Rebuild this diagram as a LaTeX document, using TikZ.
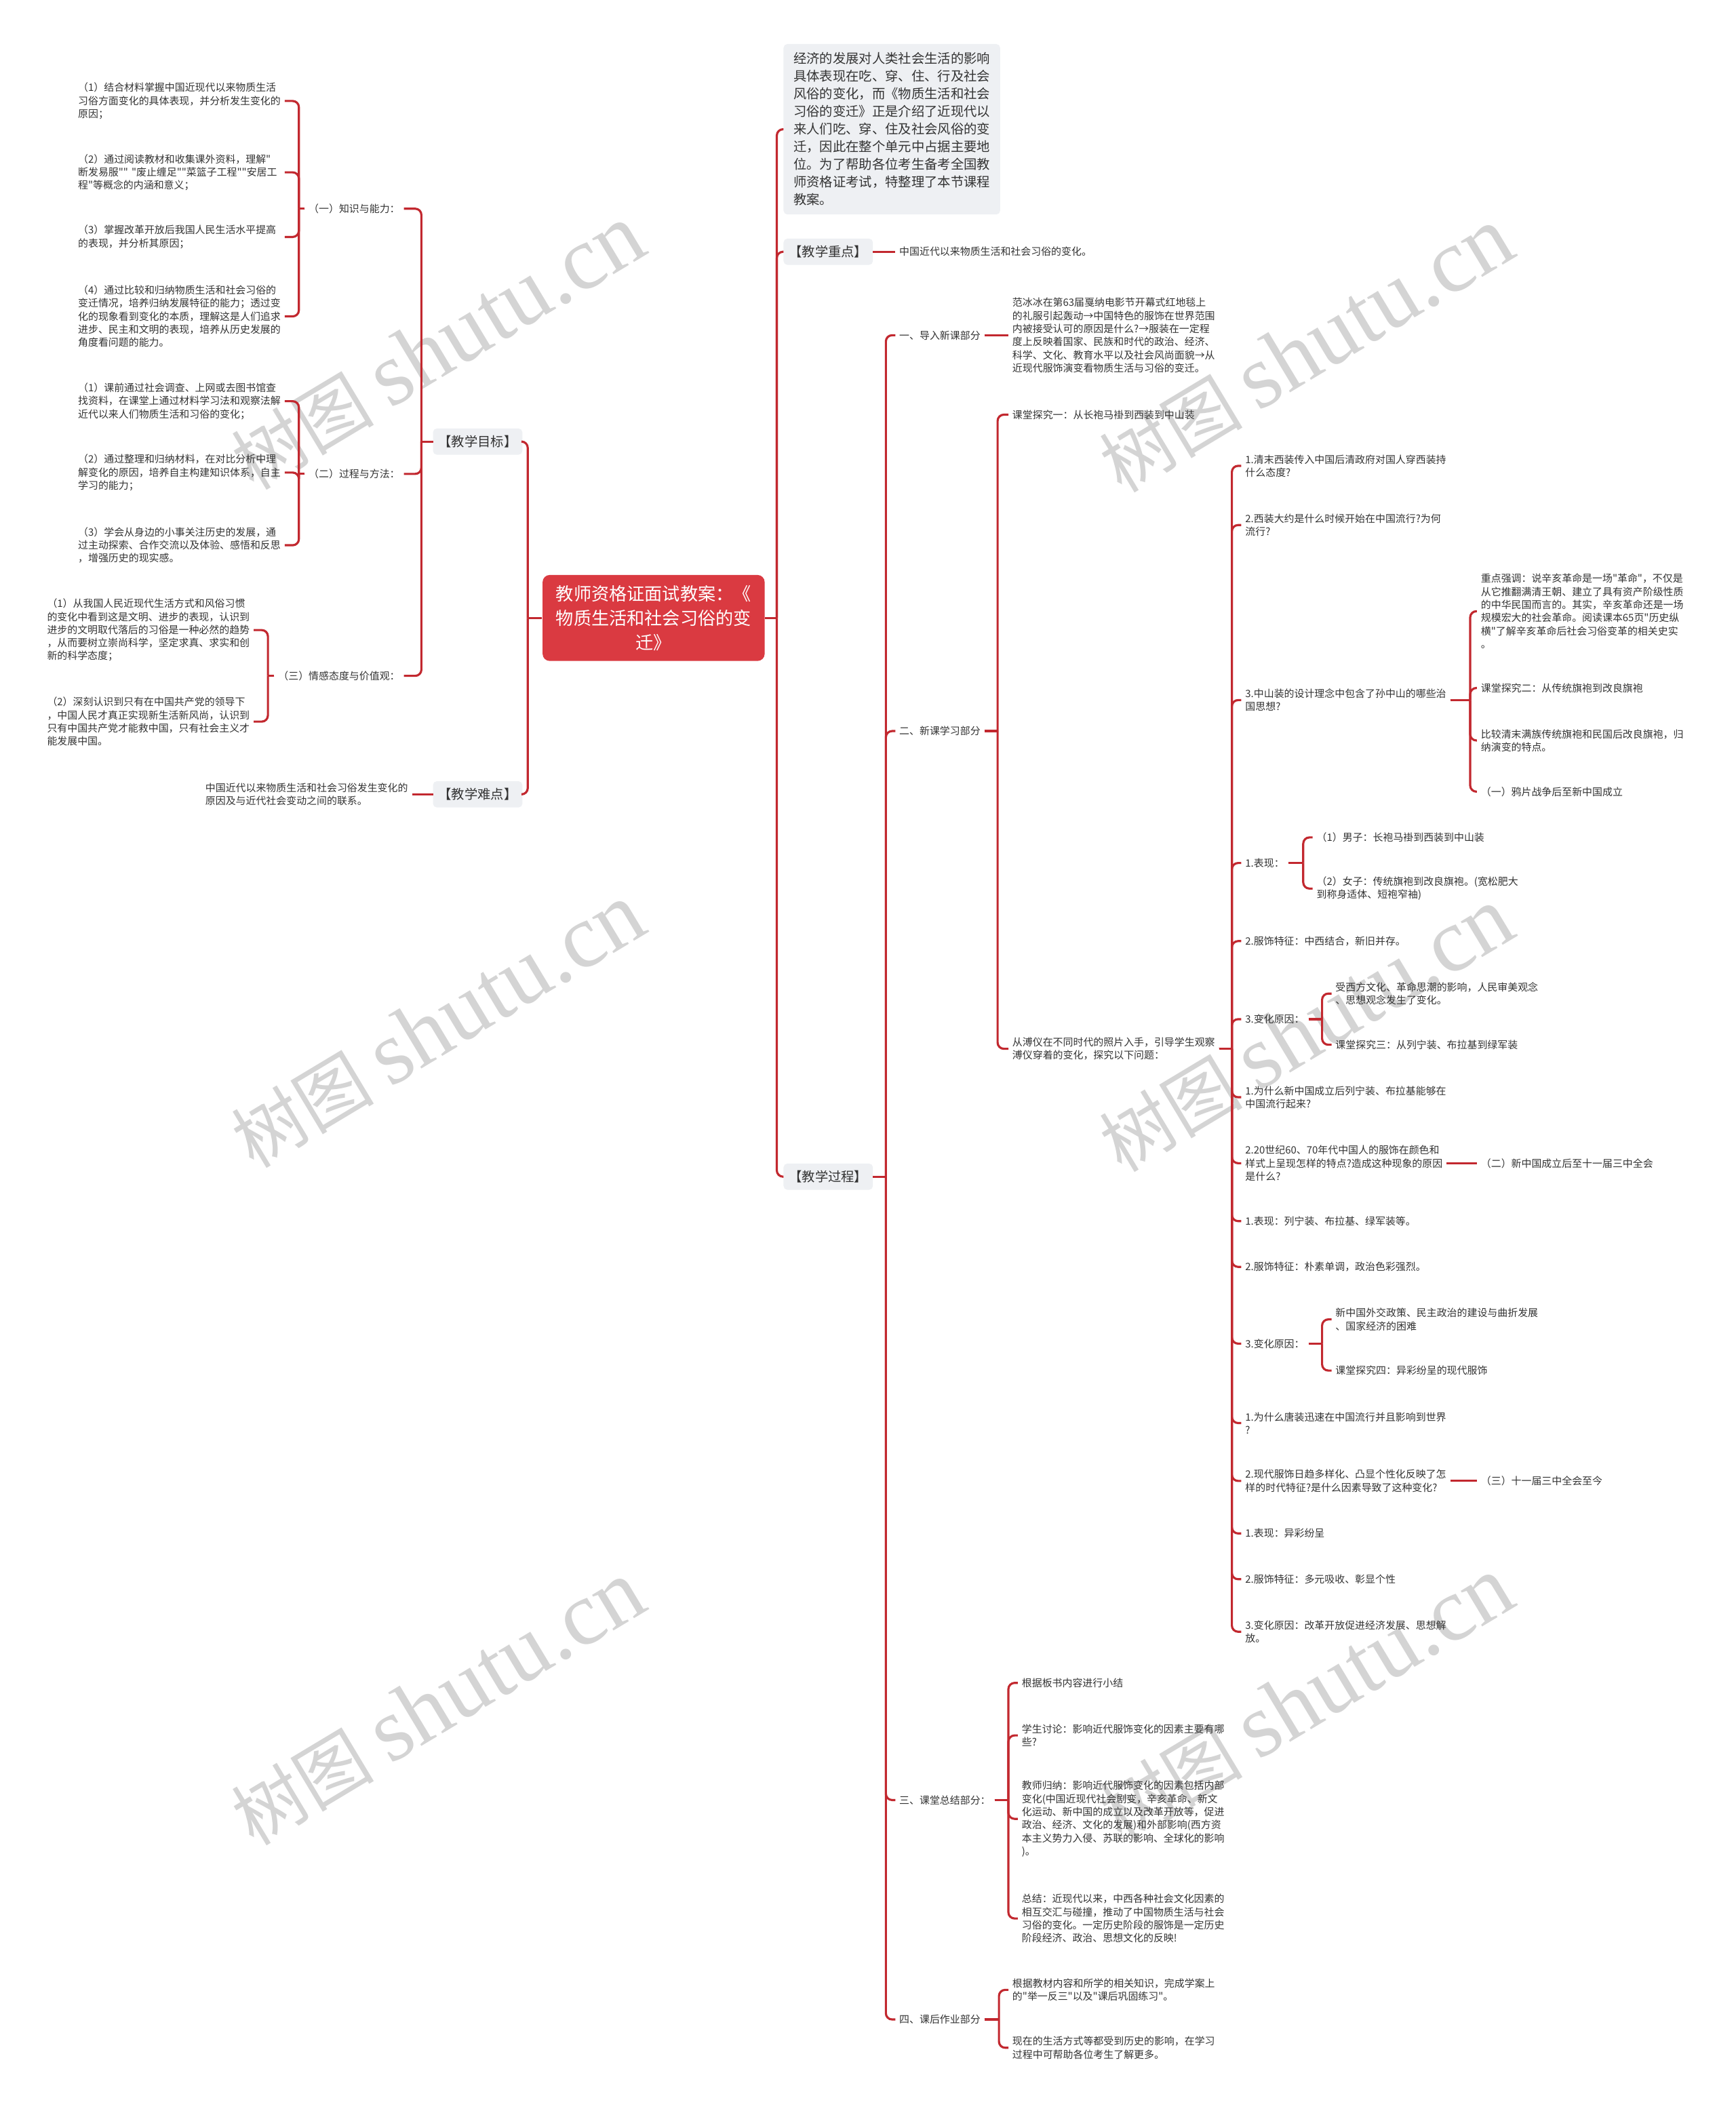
\documentclass[tikz,border=0pt]{standalone}
\usepackage{fontspec}
\setmainfont{Noto Sans CJK SC}[Ligatures=TeXOff]
\newfontfamily\wmserif{Liberation Serif}
\usetikzlibrary{calc}
\definecolor{linec}{HTML}{C2282F}
\definecolor{rootc}{HTML}{DA3A41}
\definecolor{boxc}{HTML}{EEF0F3}
\definecolor{txt}{HTML}{333333}
\definecolor{wm}{HTML}{D4D4D4}
\newcommand\mmR[3]{\draw[conn] (#1.east) -- (#1.east -| #3);\draw[conn,rc] (#1.east -| #3) |- (#2.west);}
\newcommand\mmL[3]{\draw[conn] (#1.west) -- (#1.west -| #3);\draw[conn,rc] (#1.west -| #3) |- (#2.east);}
\begin{document}
\begin{tikzpicture}[x=0.1986mm,y=-0.1986mm,
  conn/.style={draw=linec,line width=0.9pt},
  rc/.style={rounded corners=2.6pt},
  sm/.style={font=\fontsize{4.25pt}{5.5pt}\selectfont,text=txt,inner sep=0pt,outer sep=1.7pt,align=left},
  smw/.style={sm,text width=85pt},
  grey/.style={fill=boxc,rounded corners=1.6pt,inner sep=0pt,outer sep=0pt,font=\fontsize{5.5pt}{7.4pt}\selectfont,text=txt},
  tag/.style={grey,minimum width=37.5pt,minimum height=11pt},
  wmk/.style={text=wm,rotate=31,inner sep=0pt,font=\fontsize{30pt}{30pt}\selectfont}
]
\fill[white] (0,0) rectangle (1289,1568);
\useasboundingbox (0,0) rectangle (1289,1568);

% watermarks
\foreach \i/\x/\y in {1/325/258,2/970/260,3/325/762,4/970/765,5/325/1265,6/970/1262}{
  \node[wmk] (wm\i) at (\x,\y) {树图 {\wmserif\fontsize{38pt}{38pt}\selectfont shutu.cn}};
}

% bus coordinates
\coordinate (B392) at (392,0);
\coordinate (B313) at (313,0);
\coordinate (B222) at (222,0);
\coordinate (B199) at (199,0);
\coordinate (B577) at (577,0);
\coordinate (B658) at (658,0);
\coordinate (B741) at (741,0);
\coordinate (B915) at (915,0);
\coordinate (B1092) at (1092,0);
\coordinate (B968) at (968,0);
\coordinate (B982) at (982,0);
\coordinate (B749) at (749,0);
\coordinate (B742) at (742,0);

% root
\node[fill=rootc,rounded corners=3pt,minimum width=93.2pt,minimum height=36.1pt,inner sep=0pt,align=center,text=white,font=\fontsize{7.45pt}{10.2pt}\selectfont] (root) at (485.5,459) {教师资格证面试教案：《\\物质生活和社会习俗的变\\迁》};

% ---------------- left side
\node[tag,anchor=east] (tg) at (388,328) {【教学目标】};
\node[tag,anchor=east] (nd) at (388,590) {【教学难点】};
\node[sm,anchor=east] (k1) at (300,155) {（一）知识与能力：};
\node[sm,anchor=east] (k2) at (300,352) {（二）过程与方法：};
\node[sm,anchor=east] (k3) at (300,502) {（三）情感态度与价值观：};

\node[smw,anchor=west] (c11) at (55,75) {（1）结合材料掌握中国近现代以来物质生活\\习俗方面变化的具体表现，并分析发生变化的\\原因；};
\node[smw,anchor=west] (c12) at (55,128) {（2）通过阅读教材和收集课外资料，理解"\\断发易服"" "废止缠足""菜篮子工程""安居工\\程"等概念的内涵和意义；};
\node[smw,anchor=west] (c13) at (55,176) {（3）掌握改革开放后我国人民生活水平提高\\的表现，并分析其原因；};
\node[smw,anchor=west] (c14) at (55,235) {（4）通过比较和归纳物质生活和社会习俗的\\变迁情况，培养归纳发展特征的能力；透过变\\化的现象看到变化的本质，理解这是人们追求\\进步、民主和文明的表现，培养从历史发展的\\角度看问题的能力。};

\node[smw,anchor=west] (c21) at (55,298) {（1）课前通过社会调查、上网或去图书馆查\\找资料，在课堂上通过材料学习法和观察法解\\近代以来人们物质生活和习俗的变化；};
\node[smw,anchor=west] (c22) at (55,351) {（2）通过整理和归纳材料，在对比分析中理\\解变化的原因，培养自主构建知识体系，自主\\学习的能力；};
\node[smw,anchor=west] (c23) at (55,405) {（3）学会从身边的小事关注历史的发展，通\\过主动探索、合作交流以及体验、感悟和反思\\，增强历史的现实感。};

\node[smw,anchor=west] (c31) at (32,468) {（1）从我国人民近现代生活方式和风俗习惯\\的变化中看到这是文明、进步的表现，认识到\\进步的文明取代落后的习俗是一种必然的趋势\\，从而要树立崇尚科学，坚定求真、求实和创\\新的科学态度；};
\node[smw,anchor=west] (c32) at (32,536) {（2）深刻认识到只有在中国共产党的领导下\\，中国人民才真正实现新生活新风尚，认识到\\只有中国共产党才能救中国，只有社会主义才\\能发展中国。};

\node[sm,anchor=east] (ndc) at (306,590) {中国近代以来物质生活和社会习俗发生变化的\\原因及与近代社会变动之间的联系。};

\mmL{root}{tg}{B392}
\mmL{root}{nd}{B392}
\mmL{tg}{k1}{B313}
\mmL{tg}{k2}{B313}
\mmL{tg}{k3}{B313}
\mmL{k1}{c11}{B222}
\mmL{k1}{c12}{B222}
\mmL{k1}{c13}{B222}
\mmL{k1}{c14}{B222}
\mmL{k2}{c21}{B222}
\mmL{k2}{c22}{B222}
\mmL{k2}{c23}{B222}
\mmL{k3}{c31}{B199}
\mmL{k3}{c32}{B199}
\draw[conn] (nd.west) -- (ndc.east);

% ---------------- right side
\node[grey,anchor=west,inner xsep=4.2pt,inner ysep=3.6pt,align=left] (intro) at (582,96) {经济的发展对人类社会生活的影响\\具体表现在吃、穿、住、行及社会\\风俗的变化，而《物质生活和社会\\习俗的变迁》正是介绍了近现代以\\来人们吃、穿、住及社会风俗的变\\迁，因此在整个单元中占据主要地\\位。为了帮助各位考生备考全国教\\师资格证考试，特整理了本节课程\\教案。};
\node[tag,anchor=west] (zd) at (582,187) {【教学重点】};
\node[sm,anchor=west] (zdc) at (665,187) {中国近代以来物质生活和社会习俗的变化。};
\node[tag,anchor=west] (gc) at (582,874) {【教学过程】};

\node[sm,anchor=west] (p1) at (665,249) {一、导入新课部分};
\node[sm,anchor=west] (p1c) at (749,249) {范冰冰在第63届戛纳电影节开幕式红地毯上\\的礼服引起轰动→中国特色的服饰在世界范围\\内被接受认可的原因是什么?→服装在一定程\\度上反映着国家、民族和时代的政治、经济、\\科学、文化、教育水平以及社会风尚面貌→从\\近现代服饰演变看物质生活与习俗的变迁。};
\node[sm,anchor=west] (p2) at (665,543) {二、新课学习部分};
\node[sm,anchor=west] (q1) at (749,308) {课堂探究一：从长袍马褂到西装到中山装};
\node[sm,anchor=west] (q2) at (749,779) {从溥仪在不同时代的照片入手，引导学生观察\\溥仪穿着的变化，探究以下问题：};

\node[sm,anchor=west] (r1) at (922,346) {1.清末西装传入中国后清政府对国人穿西装持\\什么态度?};
\node[sm,anchor=west] (r2) at (922,390) {2.西装大约是什么时候开始在中国流行?为何\\流行?};
\node[sm,anchor=west] (r3) at (922,520) {3.中山装的设计理念中包含了孙中山的哪些治\\国思想?};
\node[sm,anchor=west] (r4) at (922,641) {1.表现：};
\node[sm,anchor=west] (r5) at (922,699) {2.服饰特征：中西结合，新旧并存。};
\node[sm,anchor=west] (r6) at (922,757) {3.变化原因：};
\node[sm,anchor=west] (r7) at (922,815) {1.为什么新中国成立后列宁装、布拉基能够在\\中国流行起来?};
\node[sm,anchor=west] (r8) at (922,864) {2.20世纪60、70年代中国人的服饰在颜色和\\样式上呈现怎样的特点?造成这种现象的原因\\是什么?};
\node[sm,anchor=west] (r9) at (922,907) {1.表现：列宁装、布拉基、绿军装等。};
\node[sm,anchor=west] (r10) at (922,941) {2.服饰特征：朴素单调，政治色彩强烈。};
\node[sm,anchor=west] (r11) at (922,998) {3.变化原因：};
\node[sm,anchor=west] (r12) at (922,1057) {1.为什么唐装迅速在中国流行并且影响到世界\\?};
\node[sm,anchor=west] (r13) at (922,1100) {2.现代服饰日趋多样化、凸显个性化反映了怎\\样的时代特征?是什么因素导致了这种变化?};
\node[sm,anchor=west] (r14) at (922,1139) {1.表现：异彩纷呈};
\node[sm,anchor=west] (r15) at (922,1173) {2.服饰特征：多元吸收、彰显个性};
\node[sm,anchor=west] (r16) at (922,1212) {3.变化原因：改革开放促进经济发展、思想解\\放。};

\node[sm,anchor=west] (s1) at (1097,454) {重点强调：说辛亥革命是一场"革命"，不仅是\\从它推翻满清王朝、建立了具有资产阶级性质\\的中华民国而言的。其实，辛亥革命还是一场\\规模宏大的社会革命。阅读课本65页"历史纵\\横"了解辛亥革命后社会习俗变革的相关史实\\。};
\node[sm,anchor=west] (s2) at (1097,511) {课堂探究二：从传统旗袍到改良旗袍};
\node[sm,anchor=west] (s3) at (1097,550) {比较清末满族传统旗袍和民国后改良旗袍，归\\纳演变的特点。};
\node[sm,anchor=west] (s4) at (1097,588) {（一）鸦片战争后至新中国成立};

\node[sm,anchor=west] (t1) at (975,622) {（1）男子：长袍马褂到西装到中山装};
\node[sm,anchor=west] (t2) at (975,660) {（2）女子：传统旗袍到改良旗袍。(宽松肥大\\到称身适体、短袍窄袖)};

\node[sm,anchor=west] (u1) at (989,738) {受西方文化、革命思潮的影响，人民审美观念\\、思想观念发生了变化。};
\node[sm,anchor=west] (u2) at (989,776) {课堂探究三：从列宁装、布拉基到绿军装};

\node[sm,anchor=west] (r8c) at (1097,864) {（二）新中国成立后至十一届三中全会};

\node[sm,anchor=west] (v1) at (989,980) {新中国外交政策、民主政治的建设与曲折发展\\、国家经济的困难};
\node[sm,anchor=west] (v2) at (989,1018) {课堂探究四：异彩纷呈的现代服饰};

\node[sm,anchor=west] (r13c) at (1097,1100) {（三）十一届三中全会至今};

\node[sm,anchor=west] (p3) at (665,1337) {三、课堂总结部分：};
\node[sm,anchor=west] (w1) at (756,1250) {根据板书内容进行小结};
\node[sm,anchor=west] (w2) at (756,1289) {学生讨论：影响近代服饰变化的因素主要有哪\\些?};
\node[sm,anchor=west] (w3) at (756,1351) {教师归纳：影响近代服饰变化的因素包括内部\\变化(中国近现代社会剧变，辛亥革命、新文\\化运动、新中国的成立以及改革开放等，促进\\政治、经济、文化的发展)和外部影响(西方资\\本主义势力入侵、苏联的影响、全球化的影响\\)。};
\node[sm,anchor=west] (w4) at (756,1425) {总结：近现代以来，中西各种社会文化因素的\\相互交汇与碰撞，推动了中国物质生活与社会\\习俗的变化。一定历史阶段的服饰是一定历史\\阶段经济、政治、思想文化的反映!};

\node[sm,anchor=west] (p4) at (665,1500) {四、课后作业部分};
\node[sm,anchor=west] (x1) at (749,1478) {根据教材内容和所学的相关知识，完成学案上\\的"举一反三"以及"课后巩固练习"。};
\node[sm,anchor=west] (x2) at (749,1521) {现在的生活方式等都受到历史的影响，在学习\\过程中可帮助各位考生了解更多。};

% right connectors
\mmR{root}{intro}{B577}
\mmR{root}{zd}{B577}
\mmR{root}{gc}{B577}
\draw[conn] (zd.east) -- (zdc.west);
\mmR{gc}{p1}{B658}
\mmR{gc}{p2}{B658}
\mmR{gc}{p3}{B658}
\mmR{gc}{p4}{B658}
\draw[conn] (p1.east) -- (p1c.west);
\mmR{p2}{q1}{B741}
\mmR{p2}{q2}{B741}
\foreach \r in {r1,r2,r3,r4,r5,r6,r7,r8,r9,r10,r11,r12,r13,r14,r15,r16}{
  \mmR{q2}{\r}{B915}
}
\foreach \s in {s1,s2,s3,s4}{\mmR{r3}{\s}{B1092}}
\mmR{r4}{t1}{B968}
\mmR{r4}{t2}{B968}
\mmR{r6}{u1}{B982}
\mmR{r6}{u2}{B982}
\draw[conn] (r8.east) -- (r8c.west);
\mmR{r11}{v1}{B982}
\mmR{r11}{v2}{B982}
\draw[conn] (r13.east) -- (r13c.west);
\foreach \w in {w1,w2,w3,w4}{\mmR{p3}{\w}{B749}}
\mmR{p4}{x1}{B742}
\mmR{p4}{x2}{B742}
\end{tikzpicture}
\end{document}
